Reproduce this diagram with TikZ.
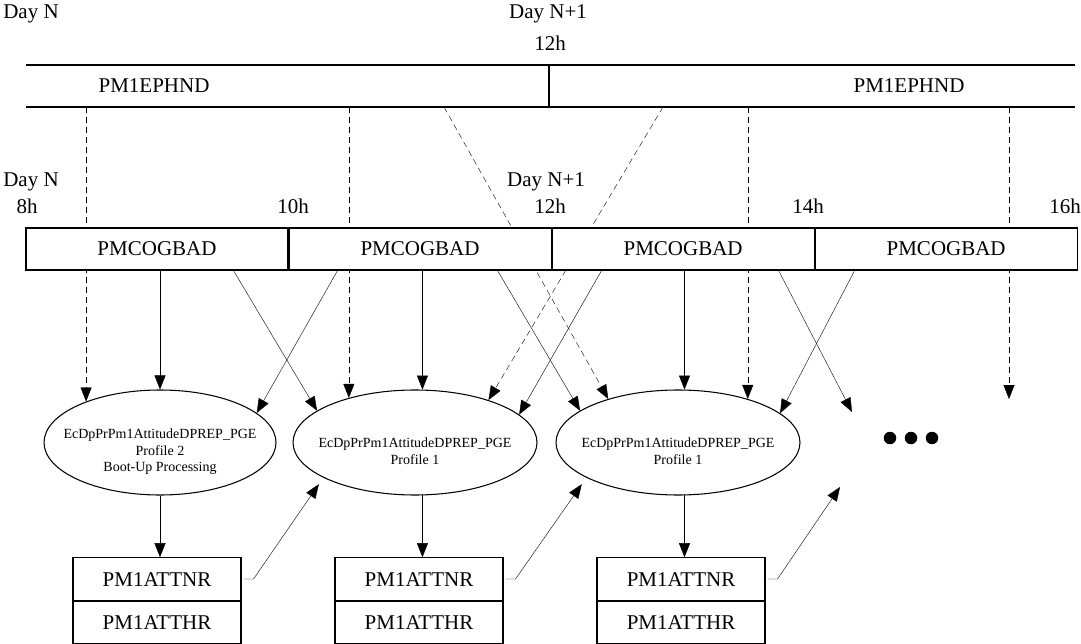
\documentclass[tikz,border=0pt]{standalone}
\usepackage{fontspec}
\setmainfont{Liberation Serif}
\usetikzlibrary{positioning,shapes.geometric,arrows.meta,backgrounds}

\tikzset{
	big/.style={font=\fontsize{21}{25}\selectfont, inner sep=0pt, text height=14pt, text depth=0pt},
	cogbox/.style={big, draw, fill=white, minimum width=262pt, minimum height=42pt},
	attbox/.style={big, draw, fill=white, minimum width=168pt, minimum height=42.5pt},
	pge/.style={draw, ellipse, inner sep=0pt, minimum height=105pt},
	pgetext/.style={font=\fontsize{14}{16.5}\selectfont, inner sep=0pt, align=center},
	dot/.style={circle, fill, inner sep=0pt, minimum size=12.5pt},
	feed/.style={-{Triangle[length=14pt,width=11pt]}},
	dep/.style={feed, dash pattern=on 6pt off 4pt},
}

\begin{document}
\begin{tikzpicture}[x=1pt, y=-1pt, line width=1.05pt]
	\useasboundingbox (0,0) rectangle (1081,644);

	\node [big] (dayA) at (31,12) {Day N};
	\node [big] (dayB) at (548,12) {Day N+1};
	\node [big] (hourA) at (550,44) {12h};

	\coordinate (barTL) at (26,65);
	\coordinate (barTR) at (1075,65);
	\coordinate (barBL) at (26,107);
	\coordinate (barBR) at (1075,107);
	\coordinate (barTM) at (549,65);
	\coordinate (barBM) at (549,107);
	\draw (barTL) -- (barTR);
	\draw (barBL) -- (barBR);
	\draw (barTM) -- (barBM);
	\node [big] (ephA) at (154,86) {PM1EPHND};
	\node [big] (ephB) at (909,86) {PM1EPHND};

	\node [big] (dayC) at (31,180) {Day N};
	\node [big] (hourB) at (27,207) {8h};
	\node [big] (hourC) at (293,207) {10h};
	\node [big] (dayD) at (546,180) {Day N+1};
	\node [big] (hourD) at (550,207) {12h};
	\node [big] (hourE) at (808,207) {14h};
	\node [big] (hourF) at (1065,207) {16h};

	\node [cogbox] (cogA) at (157,249) {PMCOGBAD};
	\node [cogbox, right=0pt of cogA] (cogB) {PMCOGBAD};
	\node [cogbox, right=0pt of cogB] (cogC) {PMCOGBAD};
	\node [cogbox, right=0pt of cogC] (cogD) {PMCOGBAD};

	\node [pge, minimum width=232pt] (pgeA) at (160,442.5) {};
	\node [pgetext] (txtA) at (160,452) {EcDpPrPm1AttitudeDPREP\_PGE\\Profile 2\\Boot-Up Processing};
	\node [pge, minimum width=244pt] (pgeB) at (415,442.5) {};
	\node [pgetext] (txtB) at (415,451) {EcDpPrPm1AttitudeDPREP\_PGE\\Profile 1};
	\node [pge, minimum width=244pt] (pgeC) at (678,442.5) {};
	\node [pgetext] (txtC) at (678,451) {EcDpPrPm1AttitudeDPREP\_PGE\\Profile 1};

	\node [dot] (dotA) at (890,438) {};
	\node [dot] (dotB) at (911,438) {};
	\node [dot] (dotC) at (932,438) {};

	\node [attbox] (attnA) at (157,579) {PM1ATTNR};
	\node [attbox, below=0pt of attnA] (atthA) {PM1ATTHR};
	\node [attbox] (attnB) at (419,579) {PM1ATTNR};
	\node [attbox, below=0pt of attnB] (atthB) {PM1ATTHR};
	\node [attbox] (attnC) at (681,579) {PM1ATTNR};
	\node [attbox, below=0pt of attnC] (atthC) {PM1ATTHR};

	\coordinate (slantA) at (444,107);
	\coordinate (slantB) at (663,107);
	\coordinate (moreA) at (852,412);
	\coordinate (moreB) at (1009,399);
	\coordinate (moreC) at (840,487);

	\begin{pgfonlayer}{background}
		\draw [dep] (pgeA.151.4 |- barBL) -- (pgeA.151.4);
		\draw [dep] (pgeB.146.8 |- barBL) -- (pgeB.146.8);
		\draw [dep] (pgeC.32.7 |- barBL) -- (pgeC.32.7);
		\draw [dep] (moreB |- barBL) -- (moreB);
		\draw [dep] (slantA) -- (pgeC.148.3);
		\draw [dep] (slantB) -- (pgeB.30.8);
	\end{pgfonlayer}

	\draw [feed] (pgeA.north |- cogA.south) -- (pgeA.north);
	\draw [feed] (pgeB.82.4 |- cogB.south) -- (pgeB.82.4);
	\draw [feed] (pgeC.83.5 |- cogC.south) -- (pgeC.83.5);

	\draw [feed] ([xshift=208pt]cogA.south west) -- (pgeB.162.8);
	\draw [feed] ([xshift=49pt]cogB.south west) -- (pgeA.17.1);
	\draw [feed] ([xshift=209pt]cogB.south west) -- (pgeC.162.8);
	\draw [feed] ([xshift=50pt]cogC.south west) -- (pgeB.15.2);
	\draw [feed] ([xshift=227pt]cogC.south west) -- (moreA);
	\draw [feed] ([xshift=40pt]cogD.south west) -- (pgeC.16.9);

	\draw [feed] (pgeA.south) -- (pgeA.south |- attnA.north);
	\draw [feed] (pgeB.-82.4) -- (pgeB.-82.4 |- attnB.north);
	\draw [feed] (pgeC.-83.5) -- (pgeC.-83.5 |- attnC.north);

	\draw [feed, shorten >=8pt] ([xshift=2pt]attnA.east) -- ++(10,0) -- (pgeB.201.5);
	\draw [feed, shorten >=8pt] ([xshift=2pt]attnB.east) -- ++(10,0) -- (pgeC.201.5);
	\draw [feed] ([xshift=2pt]attnC.east) -- ++(10,0) -- (moreC);
\end{tikzpicture}
\end{document}
